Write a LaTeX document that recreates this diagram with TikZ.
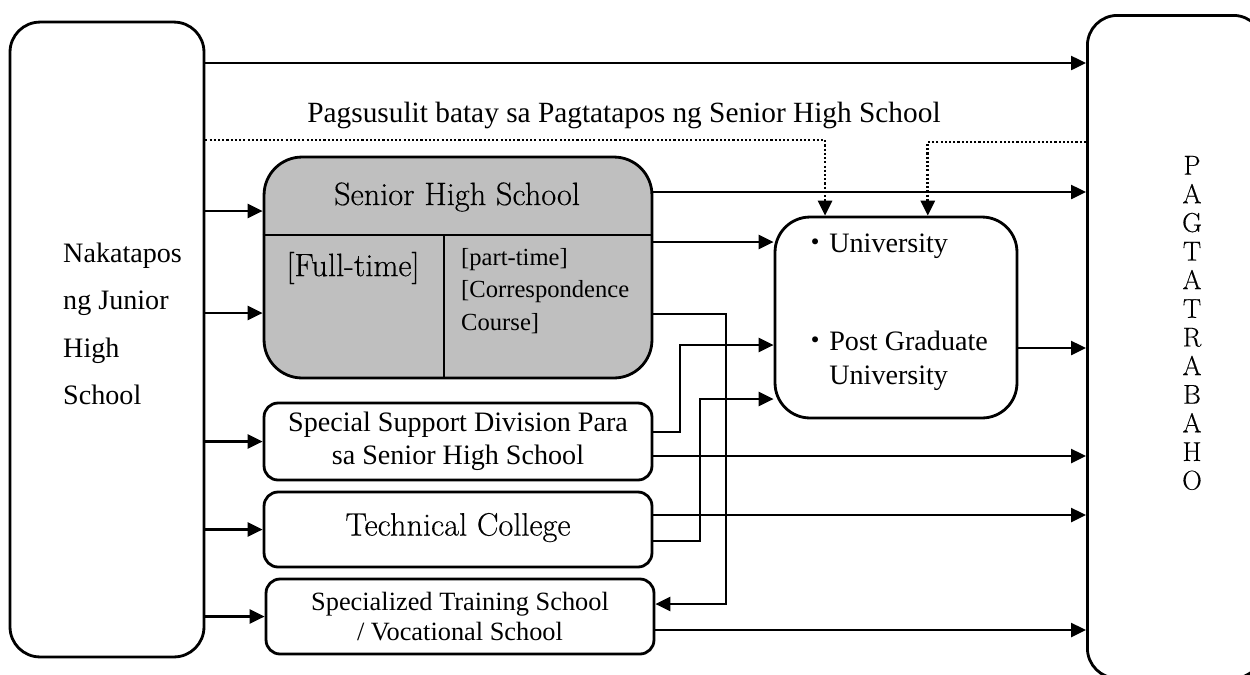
\documentclass[tikz,border=0pt]{standalone}
\usepackage{fontspec}
\newfontfamily\tms{Liberation Serif}
\newfontfamily\cjk{Noto Sans CJK JP}
\newfontfamily\lmr{Latin Modern Roman}[FakeBold=0.35]
\usetikzlibrary{arrows.meta,calc,positioning}
\tikzset{
    -{Triangle[length=0.3cm,width=0.28cm]},
    box/.style={draw,line width=1.6pt,inner sep=0pt,rounded corners=0.28cm},
    tms/.style={font=\tms\fontsize{16}{19}\selectfont,align=center,inner sep=0pt},
    lm/.style={font=\lmr\fontsize{18.4}{22}\selectfont,align=center,inner sep=0pt},
    dots/.style={line width=1.6pt,dash pattern=on 1.2pt off 1.2pt}
}
\begin{document}
\begin{tikzpicture}[x=0.02cm,y=-0.02cm,line width=1.4pt]
	\clip (0,0) rectangle (1250,674);
	\node[box,minimum width=3.88cm,minimum height=12.7cm,rounded corners=0.6cm] (jhs) at (107,339.5) {};
	\node[tms,align=left,anchor=west,font=\tms\fontsize{16}{27}\selectfont] (jhstxt) at (62,324) {Nakatapos\\ng Junior\\High\\School};
	\node[box,minimum width=3.52cm,minimum height=13.26cm,anchor=north west,rounded corners=0.6cm] (work) at (1086,14) {};
	\node[lm,font=\lmr\fontsize{15.5}{16.3}\selectfont] (worktxt) at (1192,323) {P\\A\\G\\T\\A\\T\\R\\A\\B\\A\\H\\O};
	\node[tms,font=\tms\fontsize{16.7}{19}\selectfont] (exam) at (624,115) {Pagsusulit batay sa Pagtatapos ng Senior High School};

	\node[box,fill=black!25,minimum width=7.76cm,minimum height=4.42cm,rounded corners=0.76cm] (shs) at (458,267.5) {};
	\coordinate (div) at (444,235);
	\draw[-,line width=1.6pt] (shs.west |- div) -- (shs.east |- div) (div) -- (div |- shs.south);
	\node[lm] (shstitle) at (457,197) {Senior High School};
	\node[lm] (full) at (353,268) {[Full-time]};
	\node[tms,align=left,anchor=north west,font=\tms\fontsize{14}{18.5}\selectfont] (part) at (460,247) {[part-time]\\{}[Correspondence\\Course]};

	\node[box,minimum width=4.84cm,minimum height=4.02cm,rounded corners=0.7cm] (univ) at (896,317.5) {};
	\node[tms,anchor=west] (uni) at (800,246) {{\cjk ・}University};
	\node[tms,align=left,anchor=north west] (grad) at (800,330) {{\cjk ・}Post Graduate\\\hphantom{\cjk ・}University};

	\node[box,tms,minimum width=7.76cm,minimum height=1.54cm] (ssd) at (458,441.5) {Special Support Division Para\\sa Senior High School};
	\node[box,lm,text depth=6pt,minimum width=7.76cm,minimum height=1.5cm] (tech) at (458,529.5) {Technical College};
	\node[box,tms,font=\tms\fontsize{15}{17}\selectfont,minimum width=7.76cm,minimum height=1.5cm] (spec) at (460,616.5) {Specialized Training School\\/ Vocational School};

	\draw (jhs.east |- 0,63) -- (work.west |- 0,63);
	\draw[dots] (jhs.east |- 0,140) -| ($(univ.north west)!0.21!(univ.north east)$);
	\draw[dots] (work.west |- 0,142) -| ($(univ.north west)!0.63!(univ.north east)$);
	\draw (jhs.east |- 0,211) -- (shs.west |- 0,211);
	\draw (jhs.east |- 0,313) -- (shs.west |- 0,313);
	\draw (jhs.east |- ssd.west) -- (ssd.west);
	\draw (jhs.east |- tech.west) -- (tech.west);
	\draw (jhs.east |- spec.west) -- (spec.west);
	\draw (shs.east |- 0,192) -- (work.west |- 0,192);
	\draw (shs.east |- 0,242) -- (univ.west |- 0,242);
	\draw (shs.east |- 0,314) -| (726,604) -- (spec.east |- 0,604);
	\draw (ssd.east |- 0,432) -| (680,345) -- (univ.west |- 0,345);
	\draw (ssd.east |- 0,456) -- (work.west |- 0,456);
	\draw (tech.east |- 0,515) -- (work.west |- 0,515);
	\draw (tech.east |- 0,541) -| (700,399) -- (univ.west |- 0,399);
	\draw (univ.east |- 0,348) -- (work.west |- 0,348);
	\draw (spec.east |- 0,630) -- (work.west |- 0,630);
\end{tikzpicture}
\end{document}
